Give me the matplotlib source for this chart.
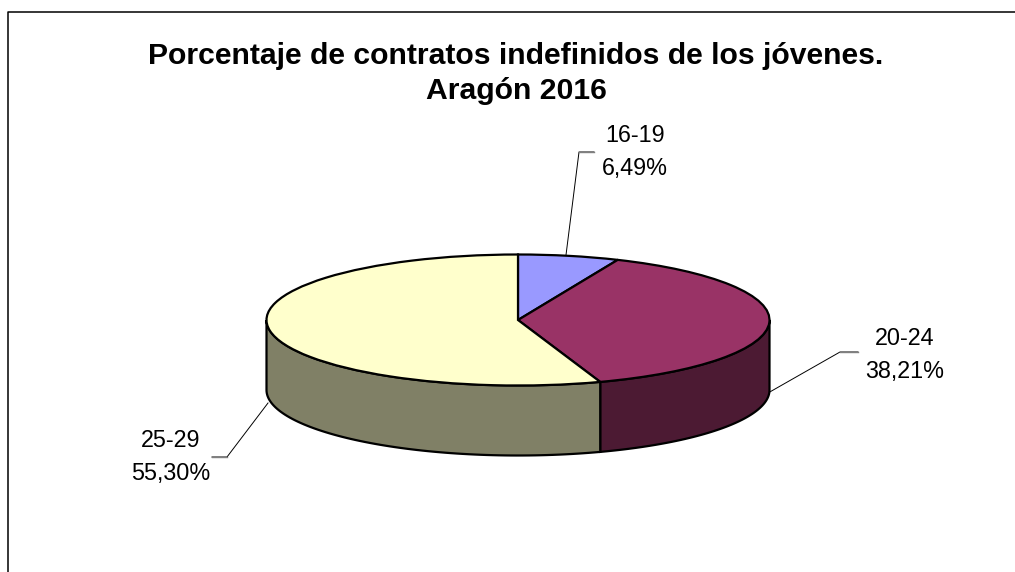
"""

Porcentaje de contratos indefinidos, pie with fake 3D wall

"""

import numpy as np
import matplotlib
matplotlib.use("Agg")
import matplotlib.pyplot as plt
from matplotlib.patches import Polygon

plt.rcParams['font.family'] = ['Liberation Sans', 'DejaVu Sans']

title = "Porcentaje de contratos indefinidos de los jóvenes.\nAragón 2016"
ages = ["16-19", "20-24", "25-29"]
shares = [6.49, 38.21, 55.30]
top_colors = ["#9999FF", "#993366", "#FFFFCC"]
wall_colors = ["#4C4C7F", "#4C1A33", "#808066"]

W, H = 1015, 572
fig = plt.figure(figsize=(W/100, H/100), dpi=100)

# page layer in pixels, y going down
bg = fig.add_axes([0, 0, 1, 1])
bg.set_xlim(0, W)
bg.set_ylim(H, 0)
bg.axis("off")

# frame of the chart, only top and left get inside the crop
bg.plot([8.5, 8.5, W], [H, 11.5, 11.5], color="black", lw=1.1)

# the ellipse of the top face
left, right, top, bottom = 266.5, 769.5, 254.5, 385.5
depth = 70 / ((bottom-top)/2)  # pie radius units

ax = fig.add_axes([left/W, 1-bottom/H, (right-left)/W, (bottom-top)/H])
wedges, _ = ax.pie(shares, startangle=90, counterclock=False, colors=top_colors,
                   radius=1, wedgeprops=dict(edgecolor="black", linewidth=1.6))
ax.set_aspect("auto")
ax.set_xlim(-1, 1)
ax.set_ylim(-1, 1)

# side wall, only the front half (angles 180..360) shows
for w, c in zip(wedges, wall_colors):
    t1, t2 = (w.theta1 % 360, w.theta2 % 360)
    if t2 <= t1:
        t2 += 360
    segs = [(max(t1, 180), min(t2, 360)), (max(t1, 540), min(t2, 720))]
    for a, b in segs:
        if b <= a:
            continue
        th = np.radians(np.linspace(a, b, 80))
        x, y = np.cos(th), np.sin(th)
        pts = np.r_[np.c_[x, y], np.c_[x[::-1], y[::-1]-depth]]
        ax.add_patch(Polygon(pts, closed=True, facecolor=c, edgecolor="black",
                             linewidth=1.6, clip_on=False, zorder=0.5))

# labels and leader lines
label_xy = [(635, 152), (905, 355), (171, 457)]
leaders = [[(566, 255), (579, 152), (594, 152)],
           [(768, 393), (840, 352), (858, 352)],
           [(268, 403), (227, 457), (212, 457)]]
for name, val, xy, pts in zip(ages, shares, label_xy, leaders):
    txt = "%s\n%s%%" % (name, ("%.2f" % val).replace(".", ","))
    bg.text(xy[0], xy[1], txt, ha="center", va="center", fontsize=16.8,
            linespacing=1.55, color="black")
    bg.plot(*zip(*pts), color="black", lw=0.7)
    bg.plot(*zip(*pts[1:]), color="#808080", lw=1.0)

bg.text(516, 73.5, title, ha="center", va="center", fontsize=21.7,
        fontweight="bold", linespacing=1.3, color="black")

fig.savefig("out.png", dpi=100)
